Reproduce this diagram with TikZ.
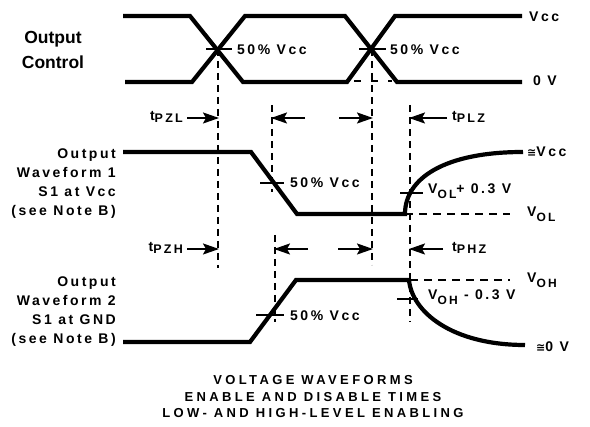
\documentclass[tikz,border=0pt]{standalone}
\usepackage{fontspec}
\setmainfont{Liberation Sans}
\newfontfamily\lsf[LetterSpace=18]{Liberation Sans}
\newfontfamily\capf[LetterSpace=26]{Liberation Sans}
\newfontfamily\djv{DejaVu Sans}
\usetikzlibrary{arrows.meta}
\newcommand\tsub[1]{\raisebox{-1.5pt}{\fontsize{12.5}{12.5}\selectfont #1}}
\newcommand\vsub[1]{\raisebox{-4.5pt}{\fontsize{12}{12}\selectfont #1}}
\newcommand\approxsym{{\djv\fontsize{11}{11}\selectfont ≅}}
\tikzset{
  wave/.style={line width=4.2pt},
  vdash/.style={line width=2.8pt, dash pattern=on 7pt off 5pt},
  hdash/.style={line width=2pt, dash pattern=on 8pt off 6pt},
  tickln/.style={line width=2pt},
  arr/.style={line width=2pt, -{Stealth[length=16pt,width=11pt,inset=3pt]}},
  lbl/.style={font=\lsf\bfseries\fontsize{14}{19}\selectfont, inner sep=0pt},
  side/.style={lbl, anchor=east, align=right},
  big/.style={font=\bfseries\fontsize{17.5}{25}\selectfont, inner sep=0pt, align=center}
}
\begin{document}
\begin{tikzpicture}[x=1pt,y=-1pt]
\useasboundingbox (0,0) rectangle (590,427);
% ---------- Output control ----------
\draw[wave] (123,16) -- (190,16) -- (243,82) -- (347,82) -- (395,16) -- (522,16);
\draw[wave] (125,82) -- (192,82) -- (245,16) -- (345,16) -- (397,82) -- (522,82);
\draw[hdash, dash pattern=on 7pt off 10pt] (354,81) -- (392,81);
\node[big] (oc) at (53,50) {Output\\Control};
\node[lbl, anchor=west] (vcc) at (529,17) {Vcc};
\node[lbl, anchor=west] (zv) at (533,81) {0 V};
\draw[tickln] (206,49) -- (232,49);
\draw[tickln] (359,49) -- (386,49);
\node[lbl, anchor=west] (h1) at (237,50) {50\% Vcc};
\node[lbl, anchor=west] (h2) at (390,50) {50\% Vcc};
% ---------- vertical reference lines ----------
\coordinate (a1) at (218,49);  \coordinate (a2) at (218,268);
\coordinate (b1) at (272,105); \coordinate (b2) at (272,192);
\coordinate (c1) at (372,49);  \coordinate (c2) at (372,265);
\coordinate (d1) at (410,105); \coordinate (d2) at (410,322);
\coordinate (e1) at (275,235); \coordinate (e2) at (275,322);
\draw[vdash] (a1) -- (a2);
\draw[vdash] (b1) -- (b2);
\draw[vdash] (c1) -- (c2);
\draw[vdash] (d1) -- (d2);
\draw[vdash] (e1) -- (e2);
% ---------- arrows row 1 ----------
\coordinate (r1a) at (187,118); \coordinate (r1b) at (219,118);
\coordinate (r1c) at (305,118); \coordinate (r1d) at (271,118);
\coordinate (r1e) at (339,118); \coordinate (r1f) at (373,118);
\coordinate (r1g) at (447,118); \coordinate (r1h) at (409,118);
\draw[arr] (r1a) -- (r1b);
\draw[arr] (r1c) -- (r1d);
\draw[arr] (r1e) -- (r1f);
\draw[arr] (r1g) -- (r1h);
\node[lbl, anchor=east] (tpzl) at (183,117) {t\tsub{PZL}};
\node[lbl, anchor=west] (tplz) at (452,117) {t\tsub{PLZ}};
% ---------- arrows row 2 ----------
\coordinate (r2a) at (187,249); \coordinate (r2b) at (219,249);
\coordinate (r2c) at (308,249); \coordinate (r2d) at (274,249);
\coordinate (r2e) at (338,249); \coordinate (r2f) at (373,249);
\coordinate (r2g) at (443,249); \coordinate (r2h) at (409,249);
\draw[arr] (r2a) -- (r2b);
\draw[arr] (r2c) -- (r2d);
\draw[arr] (r2e) -- (r2f);
\draw[arr] (r2g) -- (r2h);
\node[lbl, anchor=east] (tpzh) at (183,248) {t\tsub{PZH}};
\node[lbl, anchor=west] (tphz) at (452,248) {t\tsub{PHZ}};
% ---------- waveform 1 ----------
\draw[wave] (123,152) -- (251,152) -- (297,214) -- (405,214)
  .. controls (405,178) and (445,152) .. (523,152);
\node[side] (w1) at (116,184) {Output\\Waveform 1\\S1 at Vcc\\(see Note B)};
\draw[tickln] (260,183) -- (284,183);
\node[lbl, anchor=west] (h3) at (290,183) {50\% Vcc};
\draw[tickln] (400,193) -- (423,193);
\node[lbl, anchor=west] (vol3) at (428,191) {V\vsub{OL}+ 0.3 V};
\draw[hdash] (405,214) -- (510,214);
\node[lbl, anchor=west] (vol) at (527,214) {V\vsub{OL}};
\node[lbl, anchor=west] (avcc) at (527,152) {\approxsym Vcc};
% ---------- waveform 2 ----------
\draw[wave] (123,342) -- (250,342) -- (296,280) -- (409,280)
  .. controls (412,312) and (452,345) .. (525,345);
\node[side] (w2) at (116,312) {Output\\Waveform 2\\S1 at GND\\(see Note B)};
\draw[tickln] (256,315) -- (284,315);
\node[lbl, anchor=west] (h4) at (290,316) {50\% Vcc};
\draw[tickln] (397,299) -- (418,299);
\node[lbl, anchor=west] (voh3) at (428,297) {V\vsub{OH} - 0.3 V};
\draw[hdash] (410,280) -- (510,280);
\node[lbl, anchor=west] (voh) at (527,280) {V\vsub{OH}};
\node[lbl, anchor=west] (a0v) at (536,347) {\approxsym 0 V};
% ---------- caption ----------
\node[font=\capf\bfseries\fontsize{13}{16.5}\selectfont, inner sep=0pt, align=center] (cap) at (313,397)
  {VOLTAGE WAVEFORMS\\ENABLE AND DISABLE TIMES\\LOW- AND HIGH-LEVEL ENABLING};
\end{tikzpicture}
\end{document}
